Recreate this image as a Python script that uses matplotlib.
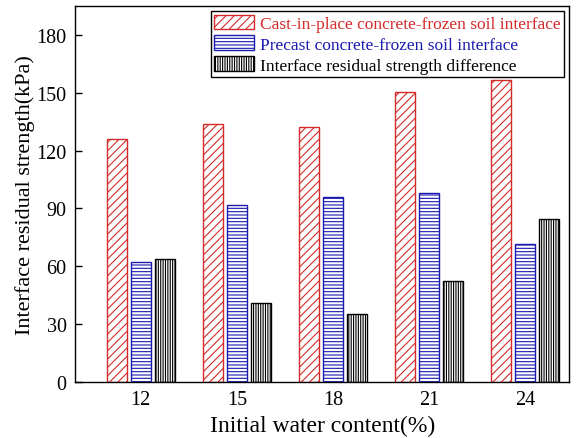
import numpy as np
import matplotlib
matplotlib.use("Agg")
import matplotlib.pyplot as plt

water = ["12", "15", "18", "21", "24"]
cast_in_place = [126, 134, 132, 150.5, 156.5]
precast = [62, 92, 96, 98, 71.5]
difference = [64, 41, 35.5, 52.5, 84.5]


def main():
    plt.rcParams["font.family"] = ["Liberation Serif", "DejaVu Serif"]
    plt.rcParams["hatch.linewidth"] = 0.8

    fig = plt.figure(figsize=(5.76, 4.39), dpi=100)
    ax = fig.add_axes([0.130, 0.1276, 0.8587, 0.8565])

    x = np.arange(len(water))
    step = 0.25
    width = 0.207
    ax.bar(x - step, cast_in_place, width, facecolor="white", edgecolor="#d42a2a",
           hatch="////", linewidth=1.0, label="Cast-in-place concrete-frozen soil interface")
    ax.bar(x, precast, width, facecolor="white", edgecolor="#1a1ab0",
           hatch="-----", linewidth=1.0, label="Precast concrete-frozen soil interface")
    ax.bar(x + step, difference, width, facecolor="white", edgecolor="black",
           hatch="|||||||", linewidth=1.0, label="Interface residual strength difference")

    ax.set_xlim(-0.686, 4.46)
    ax.set_ylim(0, 195)
    ax.set_xticks(x)
    ax.set_xticklabels(water)
    ax.set_yticks(np.arange(0, 181, 30))
    ax.tick_params(axis="y", direction="in", length=5, width=1, labelsize=14.5, right=False, pad=6)
    ax.tick_params(axis="x", length=0, labelsize=14.5, pad=6)
    for s in ax.spines.values():
        s.set_linewidth(1.0)

    ax.set_xlabel("Initial water content(%)", fontsize=17, labelpad=4)
    ax.set_ylabel("Interface residual strength(kPa)", fontsize=16, labelpad=1)

    leg = ax.legend(loc="upper right", fontsize=12.5, frameon=True, fancybox=False,
                    edgecolor="black", framealpha=1, handlelength=2.3, handleheight=0.92,
                    labelspacing=0.2, handletextpad=0.35, borderpad=0.2,
                    borderaxespad=0.3)
    leg.get_frame().set_linewidth(1.0)
    for text, c in zip(leg.get_texts(), ["#d42a2a", "#1a1ab0", "black"]):
        text.set_color(c)

    fig.savefig("out.png", dpi=100)


if __name__ == "__main__":
    main()
